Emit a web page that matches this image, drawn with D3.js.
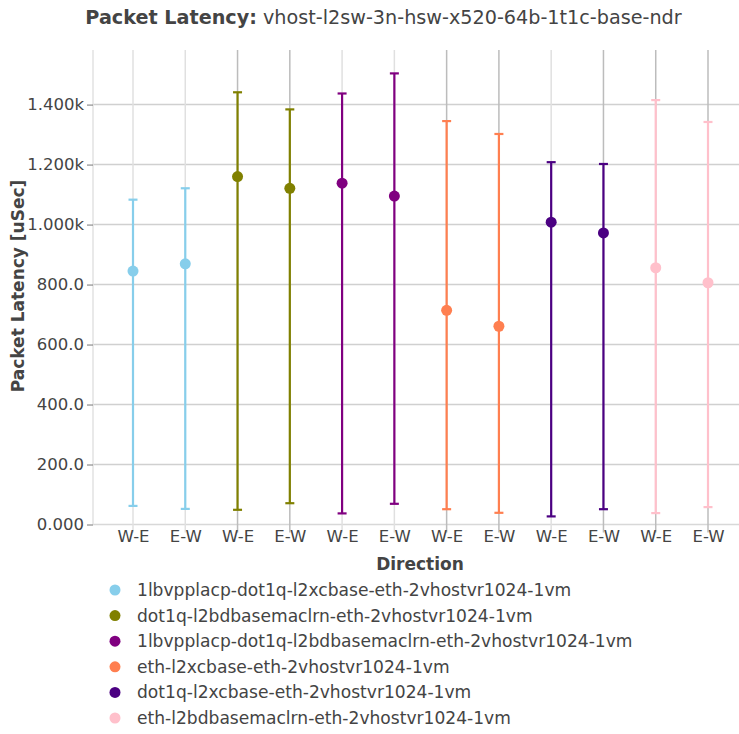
<!DOCTYPE html>
<html><head><meta charset="utf-8">
<script src="https://cdn.jsdelivr.net/npm/d3@7"></script>
<style>body{margin:0;background:#fff}svg{display:block;font-family:"DejaVu Sans",sans-serif}</style>
</head><body><svg id="c" width="739" height="734"></svg>
<script>
const seriesNames = [
  "1lbvpplacp-dot1q-l2xcbase-eth-2vhostvr1024-1vm",
  "dot1q-l2bdbasemaclrn-eth-2vhostvr1024-1vm",
  "1lbvpplacp-dot1q-l2bdbasemaclrn-eth-2vhostvr1024-1vm",
  "eth-l2xcbase-eth-2vhostvr1024-1vm",
  "dot1q-l2xcbase-eth-2vhostvr1024-1vm",
  "eth-l2bdbasemaclrn-eth-2vhostvr1024-1vm"
];
const seriesColors = ["#87CEEB","#808000","#800080","#FF7F50","#4B0082","#FFC0CB"];
const directions = ["W-E","E-W"];
// per series: [W-E, E-W]
const avgValues = [[845,869],[1160,1121],[1138,1095],[714,661],[1008,972],[856,806]];
const minValues = [[62,52],[49,71],[37,69],[51,39],[27,51],[38,58]];
const maxValues = [[1083,1121],[1441,1384],[1437,1504],[1345,1302],[1208,1202],[1415,1342]];
const yTickValues = [0,200,400,600,800,1000,1200,1400];
const yTickLabels = ["0.000","200.0","400.0","600.0","800.0","1.000k","1.200k","1.400k"];
const darkGrid = [2,3,6,7,9,10,11];

const svg = d3.select("#c");
const points = [];
seriesNames.forEach((s,si)=>directions.forEach((d,di)=>points.push({
  si, di, idx: si*2+di, dir:d, avg:avgValues[si][di], min:minValues[si][di], max:maxValues[si][di], color:seriesColors[si]})));

const x = d3.scaleLinear().domain([0,11]).range([133,708]);
const y = d3.scaleLinear().domain([0,1582]).range([524.5,50]);
const plotL = 93, plotR = 739;

// horizontal grid
svg.append("g").selectAll("line").data(yTickValues).join("line")
  .attr("x1",plotL).attr("x2",plotR).attr("y1",d=>y(d)).attr("y2",d=>y(d))
  .attr("stroke",d=>d===0?"#d8d8d8":"#d0d0d0").attr("stroke-width",1.5);
// vertical grid
svg.append("line").attr("x1",plotL).attr("x2",plotL).attr("y1",y(1582)).attr("y2",y(0)).attr("stroke","#e2e2e2").attr("stroke-width",1.5);
svg.append("g").selectAll("line").data(d3.range(12)).join("line")
  .attr("x1",d=>x(d)).attr("x2",d=>x(d)).attr("y1",y(1582)).attr("y2",y(0)+8)
  .attr("stroke",d=>darkGrid.includes(d)?"#bcbcbc":"#e0e0e0").attr("stroke-width",1.5);

// y axis
const yAxis = d3.axisLeft(y).tickValues(yTickValues).tickFormat((d,i)=>yTickLabels[i]).tickSize(6).tickPadding(3);
const ya = svg.append("g").attr("transform",`translate(${plotL},0)`).call(yAxis);
ya.select(".domain").remove();
ya.selectAll("line").attr("stroke","#777");
ya.selectAll("text").attr("fill","#444").style("font-size","16.5px").style("font-family","DejaVu Sans");

// x axis
const xAxis = d3.axisBottom(x).tickValues(d3.range(12)).tickFormat(i=>points[i].dir).tickSize(0).tickPadding(6);
const xa = svg.append("g").attr("transform",`translate(0,${y(0)})`).call(xAxis);
xa.select(".domain").remove();
xa.selectAll("text").attr("fill","#444").style("font-size","16.5px").style("font-family","DejaVu Sans");

// error bars
const eb = svg.append("g").selectAll("g").data(points).join("g");
eb.append("line").attr("x1",d=>x(d.idx)).attr("x2",d=>x(d.idx)).attr("y1",d=>y(d.min)).attr("y2",d=>y(d.max))
  .attr("stroke",d=>d.color).attr("stroke-width",2.2);
eb.append("line").attr("x1",d=>x(d.idx)-4.5).attr("x2",d=>x(d.idx)+4.5).attr("y1",d=>y(d.max)).attr("y2",d=>y(d.max))
  .attr("stroke",d=>d.color).attr("stroke-width",2.2);
eb.append("line").attr("x1",d=>x(d.idx)-4.5).attr("x2",d=>x(d.idx)+4.5).attr("y1",d=>y(d.min)).attr("y2",d=>y(d.min))
  .attr("stroke",d=>d.color).attr("stroke-width",2.2);
eb.append("circle").attr("cx",d=>x(d.idx)).attr("cy",d=>y(d.avg)).attr("r",5.5).attr("fill",d=>d.color);

// title
const t = svg.append("text").attr("x",383.5).attr("y",24).attr("text-anchor","middle").attr("fill","#444").style("font-size","19.2px");
t.append("tspan").attr("font-weight","bold").text("Packet Latency:");
t.append("tspan").text(" vhost-l2sw-3n-hsw-x520-64b-1t1c-base-ndr");

// axis titles
svg.append("text").attr("x",420).attr("y",570).attr("text-anchor","middle").attr("fill","#444")
  .attr("font-weight","bold").style("font-size","17px").text("Direction");
svg.append("text").attr("transform","translate(24,286) rotate(-90)").attr("text-anchor","middle").attr("fill","#444")
  .attr("font-weight","bold").style("font-size","17px").text("Packet Latency [uSec]");

// legend
const lg = svg.append("g").selectAll("g").data(seriesNames).join("g")
  .attr("transform",(d,i)=>`translate(115,${590+i*25.6})`);
lg.append("circle").attr("r",5.5).attr("fill",(d,i)=>seriesColors[i]);
lg.append("text").attr("x",22).attr("y",6).attr("fill","#444").style("font-size","17.1px").text(d=>d);
</script></body></html>
